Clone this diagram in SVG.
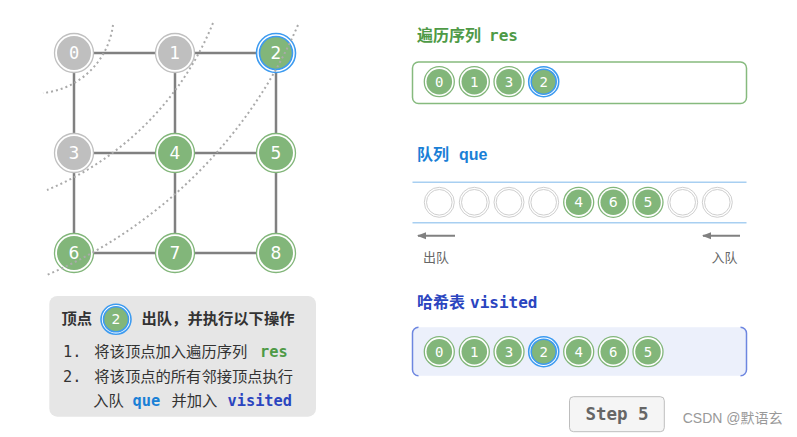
<svg xmlns="http://www.w3.org/2000/svg" width="797" height="437" viewBox="0 0 797 437">
<style>
.edge{stroke:#808080;stroke-width:2.5;fill:none}
.arc{stroke:#aaaaaa;stroke-width:2;fill:none;stroke-dasharray:2 3}
.ringG{fill:#ffffff;stroke:#82b67a;stroke-width:1.3}
.ringY{fill:#ffffff;stroke:#c0c0c0;stroke-width:1.3}
.ringB{fill:#ffffff;stroke:#3d9bf0;stroke-width:1.6}
.fillG{fill:#82b67a}
.fillY{fill:#bfbfbf}
.fillGB{fill:#82b67a;stroke:#3d9bf0;stroke-width:1.6}
.lbl{font-family:"DejaVu Sans",sans-serif;font-size:17px;fill:#ffffff;text-anchor:middle;dominant-baseline:central}
.lblm{font-family:"DejaVu Sans Mono",monospace;font-size:17px;fill:#ffffff;text-anchor:middle;dominant-baseline:central}
.sl{font-family:"DejaVu Sans Mono",monospace;font-size:14px;fill:#ffffff;text-anchor:middle;dominant-baseline:central}
.ss{font-family:"DejaVu Sans",sans-serif;font-size:14px;fill:#ffffff;text-anchor:middle;dominant-baseline:central}
.empty{fill:#ffffff;stroke:#cfcfcf;stroke-width:1}
.cjk{font-family:"Noto Sans CJK SC",sans-serif}
.mono{font-family:"DejaVu Sans Mono",monospace;font-weight:bold}
.body{font-family:"Noto Sans CJK SC",sans-serif;font-size:15.3px;fill:#333333}
</style>
<defs>
<marker id="ah" markerWidth="9" markerHeight="8" refX="8" refY="4" orient="auto" markerUnits="userSpaceOnUse">
<path d="M0,0.5 L9,4 L0,7.5 Z" fill="#808080"/>
</marker>
</defs>
<rect width="797" height="437" fill="#ffffff"/>

<g id="connectors">
<line class="edge" x1="74" y1="53" x2="175" y2="53"/>
<line class="edge" x1="175" y1="53" x2="276" y2="53"/>
<line class="edge" x1="74" y1="153" x2="175" y2="153"/>
<line class="edge" x1="175" y1="153" x2="276" y2="153"/>
<line class="edge" x1="74" y1="253" x2="175" y2="253"/>
<line class="edge" x1="175" y1="253" x2="276" y2="253"/>
<line class="edge" x1="74" y1="53" x2="74" y2="153"/>
<line class="edge" x1="74" y1="153" x2="74" y2="253"/>
<line class="edge" x1="175" y1="53" x2="175" y2="153"/>
<line class="edge" x1="175" y1="153" x2="175" y2="253"/>
<line class="edge" x1="276" y1="53" x2="276" y2="153"/>
<line class="edge" x1="276" y1="153" x2="276" y2="253"/>
</g>

<g id="node0"><circle class="ringY" cx="74" cy="53" r="19.5"/><circle class="fillY" cx="74" cy="53" r="17"/><text class="lblm" x="74" y="53">0</text></g>
<g id="node1"><circle class="ringY" cx="175" cy="53" r="19.5"/><circle class="fillY" cx="175" cy="53" r="17"/><text class="lbl" x="175" y="53">1</text></g>
<g id="node2"><circle class="ringB" cx="276" cy="53" r="19.5"/><circle class="fillGB" cx="276" cy="53" r="16.5"/><text class="lbl" x="276" y="53">2</text></g>
<g id="node3"><circle class="ringY" cx="74" cy="153" r="19.5"/><circle class="fillY" cx="74" cy="153" r="17"/><text class="lbl" x="74" y="153">3</text></g>
<g id="node4"><circle class="ringG" cx="175" cy="153" r="19.5"/><circle class="fillG" cx="175" cy="153" r="17"/><text class="lbl" x="175" y="153">4</text></g>
<g id="node5"><circle class="ringG" cx="276" cy="153" r="19.5"/><circle class="fillG" cx="276" cy="153" r="17"/><text class="lbl" x="276" y="153">5</text></g>
<g id="node6"><circle class="ringG" cx="74" cy="253" r="19.5"/><circle class="fillG" cx="74" cy="253" r="17"/><text class="lbl" x="74" y="253">6</text></g>
<g id="node7"><circle class="ringG" cx="175" cy="253" r="19.5"/><circle class="fillG" cx="175" cy="253" r="17"/><text class="lbl" x="175" y="253">7</text></g>
<g id="node8"><circle class="ringG" cx="276" cy="253" r="19.5"/><circle class="fillG" cx="276" cy="253" r="17"/><text class="lbl" x="276" y="253">8</text></g>

<g id="layers">
<path class="arc" d="M113,25 A78.5,78.5 0 0 1 43,93"/>
<path class="arc" d="M213,23 A304,304 0 0 1 47,190"/>
<path class="arc" d="M298,25 A479,479 0 0 1 47,275"/>
</g>

<g id="res">
<text x="417" y="41" font-size="16" font-weight="bold" fill="#4e9a46"><tspan class="cjk">遍历序列</tspan><tspan class="mono" x="489">res</tspan></text>
<rect x="412.5" y="62" width="334" height="41.5" rx="6" fill="#ffffff" stroke="#86ba7e" stroke-width="1.5"/>
<g><circle class="ringG" cx="439.3" cy="81.7" r="15"/><circle class="fillG" cx="439.3" cy="81.7" r="12.8"/><text class="sl" x="439.3" y="81.7">0</text></g>
<g><circle class="ringG" cx="474.3" cy="81.7" r="15"/><circle class="fillG" cx="474.3" cy="81.7" r="12.8"/><text class="sl" x="474.3" y="81.7">1</text></g>
<g><circle class="ringG" cx="509" cy="81.7" r="15"/><circle class="fillG" cx="509" cy="81.7" r="12.8"/><text class="sl" x="509" y="81.7">3</text></g>
<g><circle class="ringB" cx="543.7" cy="81.7" r="15"/><circle class="fillGB" cx="543.7" cy="81.7" r="12.5"/><text class="sl" x="543.7" y="81.7">2</text></g>
</g>

<g id="queue">
<text x="417" y="160" font-size="16" font-weight="bold" fill="#1a80d6"><tspan class="cjk">队列</tspan><tspan x="459" font-family="Liberation Sans, sans-serif">que</tspan></text>
<line x1="412.5" y1="182.3" x2="746.5" y2="182.3" stroke="#a8cff1" stroke-width="1.5"/>
<line x1="412.5" y1="222.7" x2="746.5" y2="222.7" stroke="#a8cff1" stroke-width="1.5"/>
<g fill="none">
<circle class="empty" cx="439.3" cy="202.3" r="15"/><circle class="empty" cx="439.3" cy="202.3" r="12.8"/>
<circle class="empty" cx="474.3" cy="202.3" r="15"/><circle class="empty" cx="474.3" cy="202.3" r="12.8"/>
<circle class="empty" cx="509" cy="202.3" r="15"/><circle class="empty" cx="509" cy="202.3" r="12.8"/>
<circle class="empty" cx="543.7" cy="202.3" r="15"/><circle class="empty" cx="543.7" cy="202.3" r="12.8"/>
<circle class="empty" cx="682.7" cy="202.3" r="15"/><circle class="empty" cx="682.7" cy="202.3" r="12.8"/>
<circle class="empty" cx="717.3" cy="202.3" r="15"/><circle class="empty" cx="717.3" cy="202.3" r="12.8"/>
</g>
<g><circle class="ringG" cx="578.7" cy="202.3" r="15"/><circle class="fillG" cx="578.7" cy="202.3" r="12.8"/><text class="ss" x="578.7" y="202.3">4</text></g>
<g><circle class="ringG" cx="613.3" cy="202.3" r="15"/><circle class="fillG" cx="613.3" cy="202.3" r="12.8"/><text class="ss" x="613.3" y="202.3">6</text></g>
<g><circle class="ringG" cx="648" cy="202.3" r="15"/><circle class="fillG" cx="648" cy="202.3" r="12.8"/><text class="ss" x="648" y="202.3">5</text></g>
<line x1="455" y1="235.7" x2="418" y2="235.7" stroke="#808080" stroke-width="2" marker-end="url(#ah)"/>
<line x1="740" y1="235.7" x2="703" y2="235.7" stroke="#808080" stroke-width="2" marker-end="url(#ah)"/>
<text class="cjk" x="423" y="262" font-size="13" fill="#666666">出队</text>
<text class="cjk" x="711.5" y="262" font-size="13" fill="#666666">入队</text>
</g>

<g id="visited">
<text x="417" y="308" font-size="16" font-weight="bold" fill="#2b45bf"><tspan class="cjk">哈希表</tspan><tspan class="mono" x="470">visited</tspan></text>
<rect x="412.5" y="327.3" width="334" height="48.4" rx="6" fill="#ecf0fb"/>
<path d="M418.5,327.3 A6,6 0 0 0 412.5,333.3 V369.7 A6,6 0 0 0 418.5,375.7" fill="none" stroke="#6d86e0" stroke-width="1.5"/>
<path d="M740.5,327.3 A6,6 0 0 1 746.5,333.3 V369.7 A6,6 0 0 1 740.5,375.7" fill="none" stroke="#6d86e0" stroke-width="1.5"/>
<g><circle class="ringG" cx="439.3" cy="351.7" r="15"/><circle class="fillG" cx="439.3" cy="351.7" r="12.8"/><text class="sl" x="439.3" y="351.7">0</text></g>
<g><circle class="ringG" cx="474.3" cy="351.7" r="15"/><circle class="fillG" cx="474.3" cy="351.7" r="12.8"/><text class="sl" x="474.3" y="351.7">1</text></g>
<g><circle class="ringG" cx="509" cy="351.7" r="15"/><circle class="fillG" cx="509" cy="351.7" r="12.8"/><text class="sl" x="509" y="351.7">3</text></g>
<g><circle class="ringB" cx="543.7" cy="351.7" r="15"/><circle class="fillGB" cx="543.7" cy="351.7" r="12.5"/><text class="sl" x="543.7" y="351.7">2</text></g>
<g><circle class="ringG" cx="578.7" cy="351.7" r="15"/><circle class="fillG" cx="578.7" cy="351.7" r="12.8"/><text class="sl" x="578.7" y="351.7">4</text></g>
<g><circle class="ringG" cx="613.3" cy="351.7" r="15"/><circle class="fillG" cx="613.3" cy="351.7" r="12.8"/><text class="sl" x="613.3" y="351.7">6</text></g>
<g><circle class="ringG" cx="648" cy="351.7" r="15"/><circle class="fillG" cx="648" cy="351.7" r="12.8"/><text class="sl" x="648" y="351.7">5</text></g>
</g>

<g id="note">
<rect x="49.3" y="296" width="266.7" height="120.7" rx="8" fill="#e6e6e6"/>
<text class="body" x="61.5" y="324" font-weight="bold">顶点</text>
<circle class="ringB" cx="116" cy="319.3" r="15"/><circle class="fillGB" cx="116" cy="319.3" r="12.5"/><text class="ss" x="116" y="319.3">2</text>
<text class="body" x="141.5" y="324" font-weight="bold">出队，并执行以下操作</text>
<text class="body" x="63" y="357"><tspan font-family="DejaVu Sans Mono, monospace">1.</tspan><tspan x="94.3">将该顶点加入遍历序列</tspan><tspan x="260" class="mono" fill="#4e9a46">res</tspan></text>
<text class="body" x="63" y="382"><tspan font-family="DejaVu Sans Mono, monospace">2.</tspan><tspan x="94.3">将该顶点的所有邻接顶点执行</tspan></text>
<text class="body" x="93.3" y="406">入队<tspan x="132.5" class="mono" fill="#1a80d6">que</tspan><tspan x="171.5">并加入</tspan><tspan x="227.5" class="mono" fill="#2b45bf">visited</tspan></text>
</g>

<g id="step">
<rect x="569.5" y="396.7" width="94.8" height="35" rx="4" fill="#f5f5f5" stroke="#bdbdbd" stroke-width="1"/>
<text x="617" y="419.5" text-anchor="middle" font-family="DejaVu Sans Mono, monospace" font-weight="bold" font-size="17.5" fill="#666666">Step 5</text>
</g>
<text x="682.7" y="422.5" font-family="Liberation Sans, Noto Sans CJK SC, sans-serif" font-size="14" fill="#999999">CSDN @默语玄</text>
</svg>
